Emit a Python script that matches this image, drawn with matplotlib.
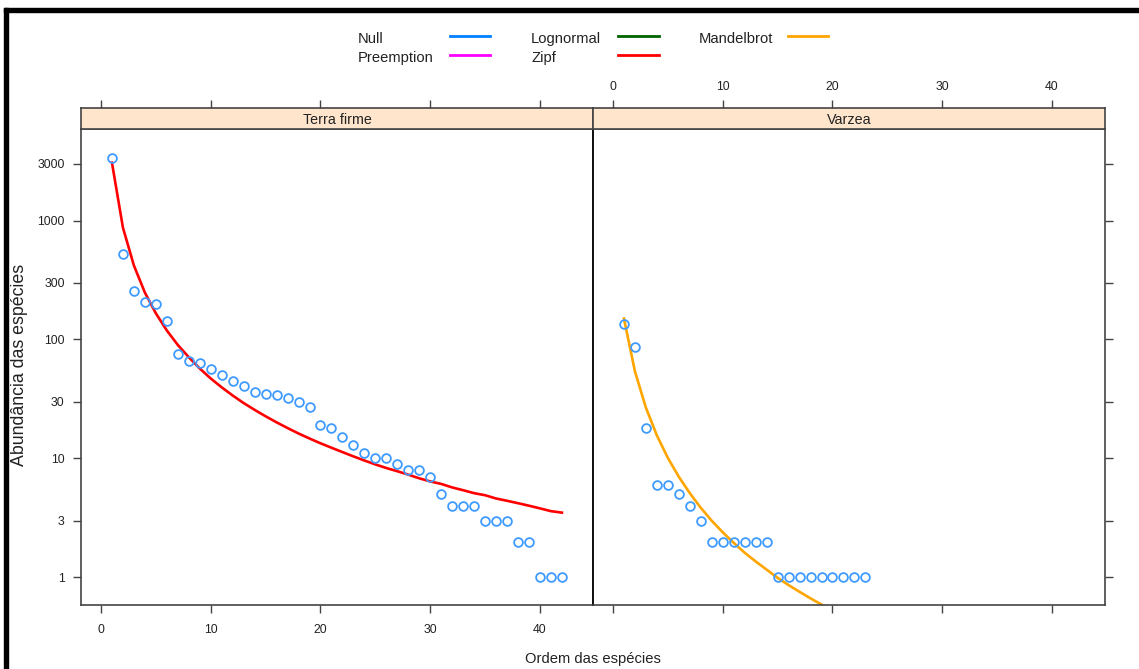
import numpy as np
import matplotlib
matplotlib.use('Agg')
import matplotlib.pyplot as plt
from matplotlib.lines import Line2D
from matplotlib.patches import Rectangle

# ---------------- data ----------------
panels = ["Terra firme", "Varzea"]
abund_terra = [3350, 528, 258, 207, 198, 144, 75, 66, 64, 56, 50, 45, 41, 36, 35,
               34, 32, 30, 27, 19, 18, 15, 13, 11, 10, 10, 9, 8, 8, 7, 5, 4, 4, 4,
               3, 3, 3, 2, 2, 1, 1, 1]
zipf_terra = [3069, 873, 419, 248, 166, 119, 90, 71, 57, 47, 39.6, 33.8, 29.2, 25.6,
              22.6, 20.1, 18.0, 16.2, 14.7, 13.4, 12.3, 11.3, 10.4, 9.6, 8.9, 8.3,
              7.8, 7.3, 6.8, 6.4, 6.1, 5.7, 5.4, 5.1, 4.9, 4.6, 4.4, 4.2, 4.0, 3.8,
              3.6, 3.5]
abund_varzea = [135, 86, 18, 6, 6, 5, 4, 3, 2, 2, 2, 2, 2, 2, 1, 1, 1, 1, 1, 1, 1, 1, 1]
mandel_varzea = [150, 54, 26.7, 15.6, 10.1, 7.0, 5.1, 3.84, 2.99, 2.39, 1.95, 1.61,
                 1.36, 1.16, 0.99, 0.86, 0.755, 0.665, 0.59, 0.53, 0.47, 0.43, 0.385]

model_names = ["Null", "Preemption", "Lognormal", "Zipf", "Mandelbrot"]
model_colors = ["#0080ff", "#ff00ff", "#006400", "#ff0000", "#ffa500"]
best_model = ["Zipf", "Mandelbrot"]

xticks = [0, 10, 20, 30, 40]
xtick_labels = ["0", "10", "20", "30", "40"]
yticks = [1, 3, 10, 30, 100, 300, 1000, 3000]
ytick_labels = ["1", "3", "10", "30", "100", "300", "1000", "3000"]

xlabel = "Ordem das espécies"
ylabel = "Abundância das espécies"

# ---------------- layout ----------------
W, H = 1139, 669
fig = plt.figure(figsize=(W / 100, H / 100), dpi=100)
fig.patch.set_facecolor('white')


def fx(px):
    return px / W


def fy(py):
    return 1 - py / H


FONT = ['Liberation Sans', 'DejaVu Sans']
TXT = '#222222'
SPINE = '#444444'

panel_left = [81, 593]
panel_w = 512
plot_top, plot_bot = 129, 605
strip_top = 108
xlim = (-1.82, 44.83)
ylim = (0.585, 5890)

abunds = [abund_terra, abund_varzea]
fits = [zipf_terra, mandel_varzea]

for i in range(2):
    L = panel_left[i]
    ax = fig.add_axes([fx(L), fy(plot_bot), panel_w / W, (plot_bot - plot_top) / H])
    ax.set_yscale('log')
    ax.set_xlim(*xlim)
    ax.set_ylim(*ylim)
    ranks = np.arange(1, len(abunds[i]) + 1)
    col = model_colors[model_names.index(best_model[i])]
    ax.plot(ranks, fits[i], color=col, lw=1.9, zorder=2)
    ax.plot(ranks, abunds[i], 'o', mfc='none', mec='#3f9bff', ms=6.3, mew=1.3, zorder=3)
    for s in ax.spines.values():
        s.set_color(SPINE)
        s.set_linewidth(1.2)
    # shared edge between the panels is drawn darker
    inner = 'right' if i == 0 else 'left'
    ax.spines[inner].set_color('#111111')
    ax.spines[inner].set_linewidth(1.4)
    ax.minorticks_off()
    ax.set_xticks(xticks)
    ax.set_yticks(yticks)
    ax.tick_params(axis='both', which='major', direction='out', length=5.8,
                   width=1.0, color=SPINE, labelcolor=TXT, labelsize=8.8)
    ax.tick_params(axis='x', pad=8)
    ax.tick_params(axis='y', pad=6)
    if i == 0:
        ax.set_xticklabels(xtick_labels, family=FONT)
        ax.set_yticklabels(ytick_labels, family=FONT)
        ax.tick_params(axis='y', left=True, right=False, labelleft=True)
    else:
        ax.set_xticklabels([])
        ax.yaxis.tick_right()
        ax.tick_params(axis='y', left=False, right=True, labelright=False, labelleft=False)

    # strip
    sax = fig.add_axes([fx(L), fy(plot_top), panel_w / W, (plot_top - strip_top) / H])
    sax.set_facecolor('#ffe5cc')
    sax.set_xlim(*xlim)
    sax.set_ylim(0, 1)
    sax.set_yticks([])
    sax.set_xticks(xticks)
    sax.xaxis.tick_top()
    sax.tick_params(axis='x', direction='out', length=5.8, width=1.0, color=SPINE,
                    labelcolor=TXT, labelsize=8.8, pad=5)
    if i == 1:
        sax.set_xticklabels(xtick_labels, family=FONT)
    else:
        sax.set_xticklabels([])
    for s in sax.spines.values():
        s.set_color(SPINE)
        s.set_linewidth(1.2)
    sax.text(0.5, 0.45, panels[i], transform=sax.transAxes, ha='center', va='center',
             fontsize=10.3, family=FONT, color=TXT)

# axis titles
fig.text(fx(593), fy(659), xlabel, ha='center', va='center', fontsize=10.6,
         family=FONT, color=TXT)
fig.text(fx(20), fy(365), ylabel, ha='center', va='center', rotation=90,
         fontsize=12.8, family=FONT, color=TXT)

# legend (text left, line right)
leg_text_x = [358, 358, 531, 531, 699]
leg_line_x = [(450, 490), (450, 490), (618, 659), (618, 659), (788, 828)]
leg_y = [39, 58, 39, 58, 39]
for k, name in enumerate(model_names):
    fig.text(fx(leg_text_x[k]), fy(leg_y[k]), name, ha='left', va='center',
             fontsize=10.6, family=FONT, color=TXT)
    x0, x1 = leg_line_x[k]
    fig.add_artist(Line2D([fx(x0), fx(x1)], [fy(leg_y[k] - 3), fy(leg_y[k] - 3)],
                          color=model_colors[k], lw=2.0, transform=fig.transFigure))

# black screenshot frame at top and left
fig.add_artist(Rectangle((fx(4), fy(12)), 1 - fx(4), 4 / H, color='black',
                         transform=fig.transFigure, zorder=10))
fig.add_artist(Rectangle((fx(4), 0), 4 / W, fy(8), color='black',
                         transform=fig.transFigure, zorder=10))

fig.savefig('out.png', dpi=100, facecolor='white')
